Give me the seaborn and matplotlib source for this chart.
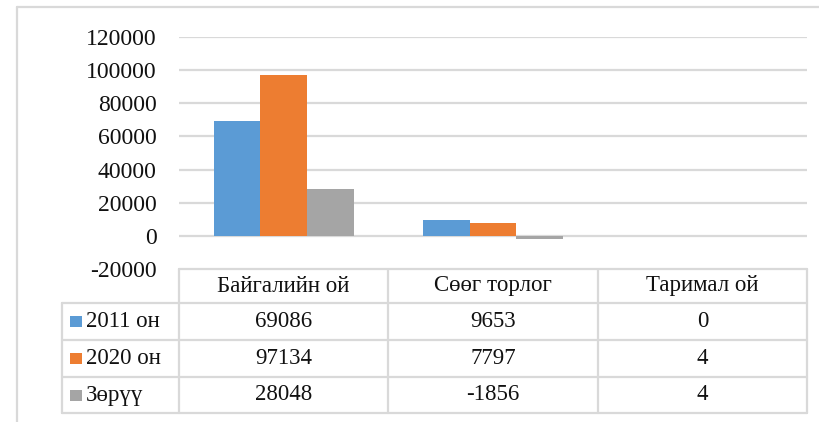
import pandas as pd
import matplotlib.pyplot as plt
import seaborn as sns

# Data
categories = ['Байгалийн ой', 'Сөөг торлог', 'Таримал ой']
series_names = ['2011 он', '2020 он', 'Зөрүү']
values_2011 = [69086, 9653, 0]
values_2020 = [97134, 7797, 4]
values_diff = [28048, -1856, 4]
y_ticks = [-20000, 0, 20000, 40000, 60000, 80000, 100000, 120000]
colors = ['#5B9BD5', '#ED7D31', '#A5A5A5']

df = pd.DataFrame({
    'Category': categories * 3,
    'Series': [s for s in series_names for _ in categories],
    'Value': values_2011 + values_2020 + values_diff,
})

sns.set_theme(style='white')
plt.rcParams['font.family'] = ['Liberation Serif', 'DejaVu Serif']
grid_color = '#d9d9d9'
text_color = '#111111'
W, H = 819, 422
fig = plt.figure(figsize=(W / 100, H / 100), dpi=100)

# overlay in pixel coordinates for frame and table
ov = fig.add_axes([0, 0, 1, 1])
ov.set_xlim(0, W)
ov.set_ylim(H, 0)
ov.axis('off')

# plot area in pixels
px_left, px_right, px_top, px_bottom = 179, 807, 37, 269
ax = fig.add_axes([px_left / W, 1 - px_bottom / H, (px_right - px_left) / W, (px_bottom - px_top) / H])
sns.barplot(data=df, x='Category', y='Value', hue='Series', palette=colors,
            width=0.67, gap=0, ax=ax, legend=False, saturation=1, edgecolor='none')
ax.set_ylim(-20000, 120000)
ax.set_xlim(-0.5, 2.5)
ax.set_yticks(y_ticks)
ax.set_yticklabels([str(t) for t in y_ticks], fontsize=17, color=text_color)
ax.tick_params(axis='y', length=0, pad=16)
ax.set_xticks([])
ax.set_xlabel('')
ax.set_ylabel('')
for sp in ax.spines.values():
    sp.set_visible(False)
ax.yaxis.grid(True, color=grid_color, linewidth=1.6)
ax.set_axisbelow(True)

# outer chart frame
ov.plot([17, W], [7, 7], color=grid_color, lw=1.6)
ov.plot([17, 17], [7, H], color=grid_color, lw=1.6)

# data table
row_lines = [269, 303, 340, 377, 413]
label_left = 62
col_w = (px_right - px_left) / len(categories)
col_edges = [px_left + i * col_w for i in range(len(categories) + 1)]
for i, y in enumerate(row_lines):
    x0 = px_left if i == 0 else label_left
    ov.plot([x0, px_right], [y, y], color=grid_color, lw=1.6)
for x in col_edges:
    ov.plot([x, x], [row_lines[0], row_lines[-1]], color=grid_color, lw=1.6)
ov.plot([label_left, label_left], [row_lines[1], row_lines[-1]], color=grid_color, lw=1.6)

fs = 16.5
for j, cat in enumerate(categories):
    xc = (col_edges[j] + col_edges[j + 1]) / 2
    yc = (row_lines[0] + row_lines[1]) / 2
    ov.text(xc, yc, cat, ha='center', va='center', fontsize=fs, color=text_color)

rows = [values_2011, values_2020, values_diff]
for i, (name, vals, c) in enumerate(zip(series_names, rows, colors)):
    yc = (row_lines[i + 1] + row_lines[i + 2]) / 2
    ov.add_patch(plt.Rectangle((70, yc - 5.5), 12, 11, color=c, lw=0))
    ov.text(86, yc, name, ha='left', va='center', fontsize=fs, color=text_color)
    for j, v in enumerate(vals):
        xc = (col_edges[j] + col_edges[j + 1]) / 2
        ov.text(xc, yc, str(v), ha='center', va='center', fontsize=fs, color=text_color)

fig.savefig('out.png', dpi=100)
